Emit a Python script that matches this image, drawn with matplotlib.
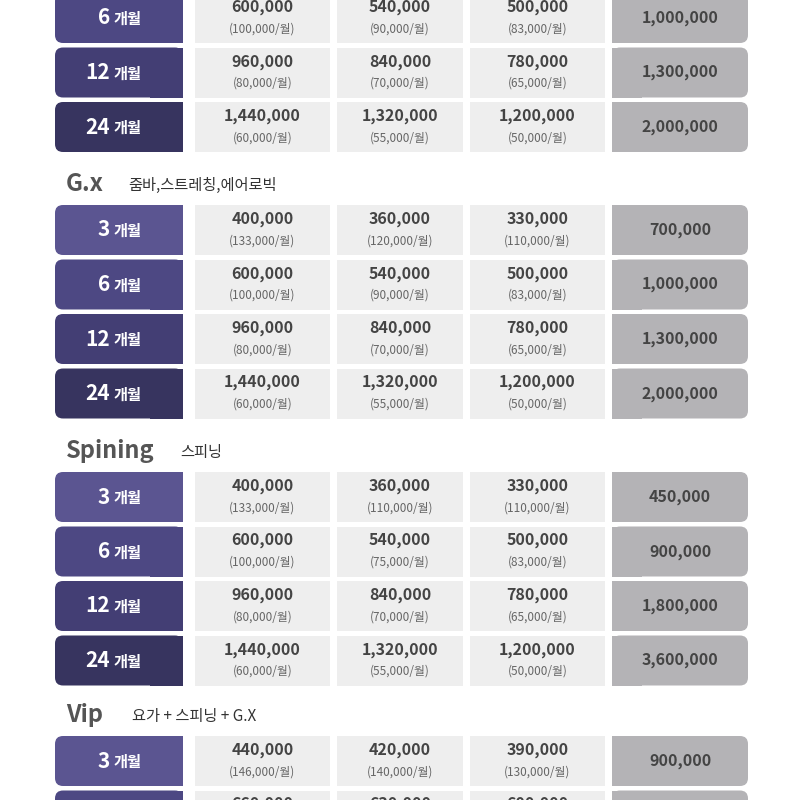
import matplotlib.pyplot as plt
from matplotlib.patches import FancyBboxPatch, Rectangle

plt.rcParams['font.family'] = ['Noto Sans CJK JP', 'Noto Sans CJK KR', 'DejaVu Sans']

months = ['3', '6', '12', '24']
label_colors = ['#5b5591', '#4d4883', '#433e74', '#37345f']

yoga_c1 = ['600,000', '960,000', '1,440,000']
yoga_c1m = ['(100,000/월)', '(80,000/월)', '(60,000/월)']
yoga_c2 = ['540,000', '840,000', '1,320,000']
yoga_c2m = ['(90,000/월)', '(70,000/월)', '(55,000/월)']
yoga_c3 = ['500,000', '780,000', '1,200,000']
yoga_c3m = ['(83,000/월)', '(65,000/월)', '(50,000/월)']
yoga_gray = ['1,000,000', '1,300,000', '2,000,000']

gx_c1 = ['400,000', '600,000', '960,000', '1,440,000']
gx_c1m = ['(133,000/월)', '(100,000/월)', '(80,000/월)', '(60,000/월)']
gx_c2 = ['360,000', '540,000', '840,000', '1,320,000']
gx_c2m = ['(120,000/월)', '(90,000/월)', '(70,000/월)', '(55,000/월)']
gx_c3 = ['330,000', '500,000', '780,000', '1,200,000']
gx_c3m = ['(110,000/월)', '(83,000/월)', '(65,000/월)', '(50,000/월)']
gx_gray = ['700,000', '1,000,000', '1,300,000', '2,000,000']

sp_c1 = ['400,000', '600,000', '960,000', '1,440,000']
sp_c1m = ['(133,000/월)', '(100,000/월)', '(80,000/월)', '(60,000/월)']
sp_c2 = ['360,000', '540,000', '840,000', '1,320,000']
sp_c2m = ['(110,000/월)', '(75,000/월)', '(70,000/월)', '(55,000/월)']
sp_c3 = ['330,000', '500,000', '780,000', '1,200,000']
sp_c3m = ['(110,000/월)', '(83,000/월)', '(65,000/월)', '(50,000/월)']
sp_gray = ['450,000', '900,000', '1,800,000', '3,600,000']

vip_c1 = ['440,000', '660,000']
vip_c1m = ['(146,000/월)', '(110,000/월)']
vip_c2 = ['420,000', '630,000']
vip_c2m = ['(140,000/월)', '(105,000/월)']
vip_c3 = ['390,000', '600,000']
vip_c3m = ['(130,000/월)', '(100,000/월)']
vip_gray = ['900,000', '1,300,000']

sections = [
    (None, None, months[1:], yoga_c1, yoga_c1m, yoga_c2, yoga_c2m, yoga_c3, yoga_c3m, yoga_gray, -7, 1),
    ('G.x', '줌바,스트레칭,에어로빅', months, gx_c1, gx_c1m, gx_c2, gx_c2m, gx_c3, gx_c3m, gx_gray, 205, 0),
    ('Spining', '스피닝', months, sp_c1, sp_c1m, sp_c2, sp_c2m, sp_c3, sp_c3m, sp_gray, 472, 0),
    ('Vip', '요가 + 스피닝 + G.X', months[:2], vip_c1, vip_c1m, vip_c2, vip_c2m, vip_c3, vip_c3m, vip_gray, 736, 0),
]

fig = plt.figure(figsize=(8, 8), dpi=100)
ax = fig.add_axes([0, 0, 1, 1])
ax.set_xlim(0, 800)
ax.set_ylim(800, 0)
ax.axis('off')

pitch, h = 54.5, 50
cols = [(195, 135), (337, 126), (470, 135)]

for title, sub, ms, c1, c1m, c2, c2m, c3, c3m, gray, top, off in sections:
    if title:
        ax.text(66, top - 21, title, fontsize=17, fontweight='bold', color='#555555', va='center')
        tx = {'G.x': 128, 'Spining': 180, 'Vip': 132}[title]
        ax.text(tx, top - 20, sub, fontsize=11, color='#333333', va='center')
    for i, m in enumerate(ms):
        y = top + i * pitch
        col = label_colors[i + off]
        ax.add_patch(FancyBboxPatch((55, y), 128, h, boxstyle='round,pad=0,rounding_size=8',
                                    fc=col, ec='none'))
        ax.add_patch(Rectangle((150, y), 33, h, fc=col, ec='none', lw=0))
        ax.text(110, y + h / 2, m, fontsize=15, fontweight='bold', color='white',
                ha='right', va='center')
        ax.text(114, y + h / 2 + 1, '개월', fontsize=11, fontweight='bold', color='white',
                ha='left', va='center')
        for (x0, w), v, vm in zip(cols, [c1[i], c2[i], c3[i]], [c1m[i], c2m[i], c3m[i]]):
            ax.add_patch(Rectangle((x0, y), w, h, fc='#eeeeee', ec='none'))
            ax.text(x0 + w / 2, y + 14, v, fontsize=11.5, fontweight='bold', color='#444444',
                    ha='center', va='center')
            ax.text(x0 + w / 2, y + 36, vm, fontsize=8.5, color='#666666',
                    ha='center', va='center')
        ax.add_patch(FancyBboxPatch((612, y), 136, h, boxstyle='round,pad=0,rounding_size=8',
                                    fc='#b4b3b6', ec='none'))
        ax.add_patch(Rectangle((612, y), 30, h, fc='#b4b3b6', ec='none', lw=0))
        ax.text(680, y + h / 2, gray[i], fontsize=11.5, fontweight='bold', color='#444444',
                ha='center', va='center')

plt.savefig('out.png', dpi=100)
